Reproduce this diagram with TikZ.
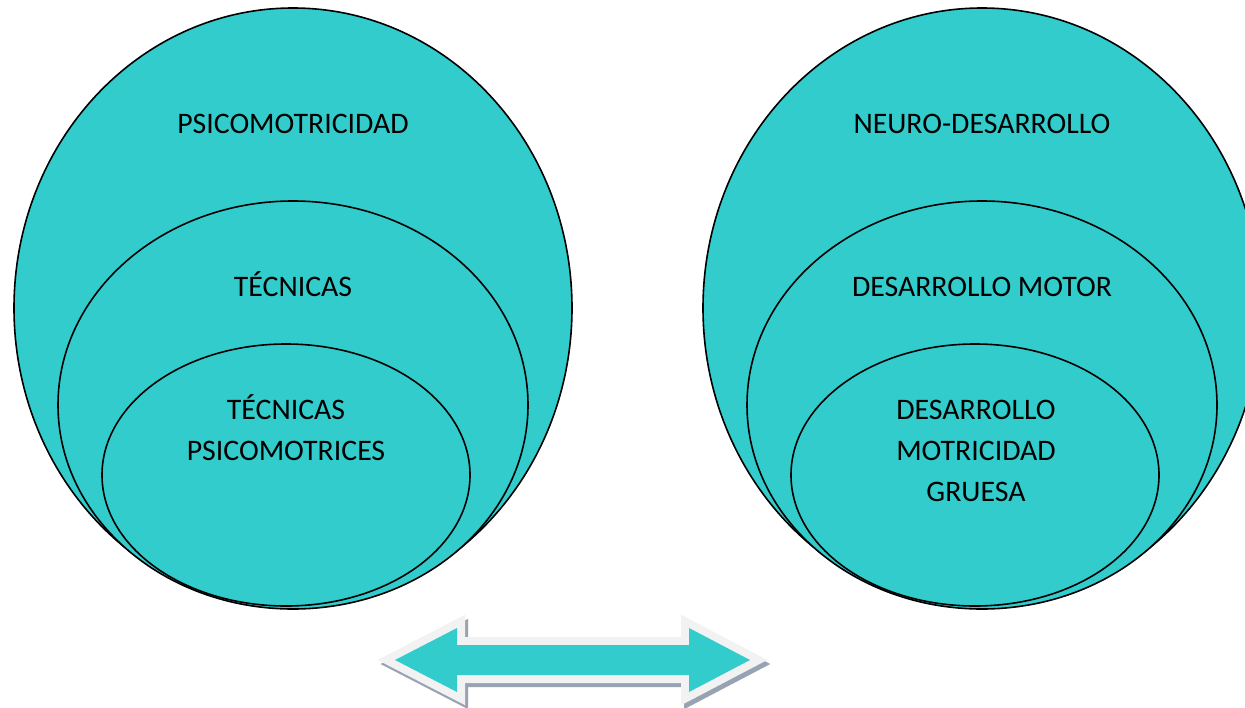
\documentclass[tikz,border=0pt]{standalone}
\usepackage{fontspec}
\setmainfont{Carlito}
\definecolor{teal}{HTML}{33CCCC}
\definecolor{arrowrim}{HTML}{F2F2F2}
\definecolor{arrowshadow}{HTML}{97A3B3}
\tikzset{
  blob/.style={fill=teal, draw=black, line width=1.6pt},
  label/.style={font=\fontsize{29.8}{41}\selectfont, align=center, inner sep=0pt, anchor=base},
}
\begin{document}
\begin{tikzpicture}[x=1pt,y=-1pt]
\useasboundingbox (0,0) rectangle (1245,707);
\clip (0,0) rectangle (1245,707);
\fill[white] (0,0) rectangle (1245,707);
% left set
\filldraw[blob] (293,308) ellipse [x radius=279pt, y radius=300pt];
\filldraw[blob] (293,405) ellipse [x radius=235pt, y radius=204pt];
\filldraw[blob] (286,475) ellipse [x radius=184pt, y radius=131pt];
% right set
\filldraw[blob] (982,308) ellipse [x radius=279pt, y radius=300pt];
\filldraw[blob] (982,405) ellipse [x radius=235pt, y radius=204pt];
\filldraw[blob] (975,475) ellipse [x radius=184pt, y radius=131pt];
% labels
\node[label] (psico) at (293,133.5) {PSICOMOTRICIDAD};
\node[label] (tec) at (293,296.5) {TÉCNICAS};
\node[label] (tecp1) at (286,419.5) {TÉCNICAS};
\node[label] (tecp2) at (286,460.5) {PSICOMOTRICES};
\node[label] (neuro) at (982,133.5) {NEURO-DESARROLLO};
\node[label] (desm) at (982,296.5) {DESARROLLO MOTOR};
\node[label] (dmg1) at (976,419.5) {DESARROLLO};
\node[label] (dmg2) at (976,460.5) {MOTRICIDAD};
\node[label] (dmg3) at (976,501.5) {GRUESA};
% double arrow
\def\arrowpath{(395,660) -- (457,628) -- (457,645) -- (689,645) -- (689,628) -- (750,660) -- (689,692) -- (689,675) -- (457,675) -- (457,692) -- cycle}
\begin{scope}[shift={(3,4)}]
\filldraw[fill=arrowshadow, draw=arrowshadow, line width=16pt, line join=miter] \arrowpath;
\end{scope}
\filldraw[fill=arrowrim, draw=arrowrim, line width=16pt, line join=miter] \arrowpath;
\fill[teal] \arrowpath;
\end{tikzpicture}
\end{document}
